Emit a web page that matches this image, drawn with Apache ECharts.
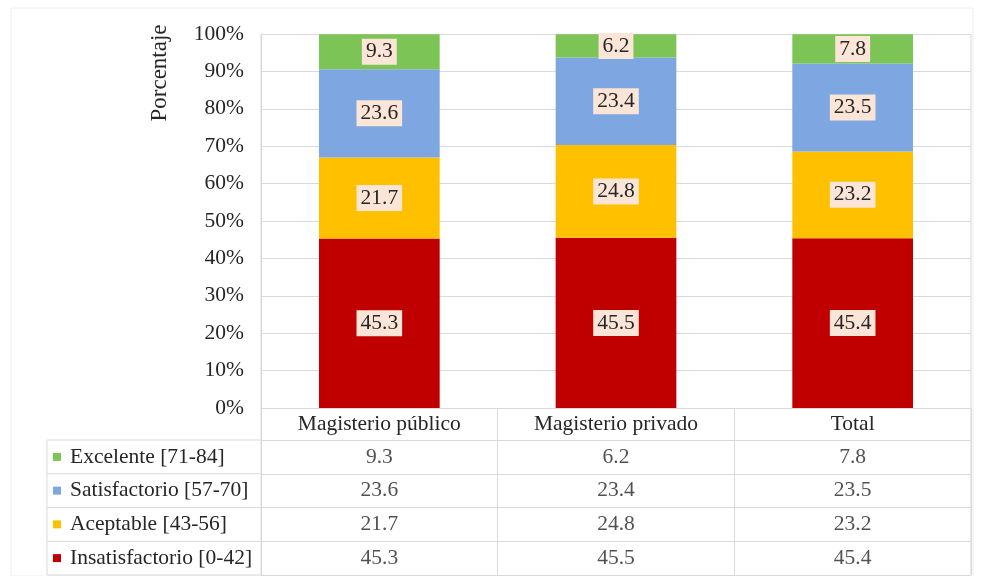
<!DOCTYPE html>
<html><head><meta charset="utf-8">
<script src="https://cdn.jsdelivr.net/npm/echarts@6/dist/echarts.min.js"></script>
<style>html,body{margin:0;padding:0;background:#fff}#c{width:982px;height:576px}</style>
</head><body><div id="c"></div>
<script>
const categories = ['Magisterio público', 'Magisterio privado', 'Total'];
const seriesNames = ['Excelente [71-84]', 'Satisfactorio [57-70]', 'Aceptable [43-56]', 'Insatisfactorio [0-42]'];
const excelente = [9.3, 6.2, 7.8];
const satisfactorio = [23.6, 23.4, 23.5];
const aceptable = [21.7, 24.8, 23.2];
const insatisfactorio = [45.3, 45.5, 45.4];
const yTicks = [0, 10, 20, 30, 40, 50, 60, 70, 80, 90, 100];

const colors = ['#7cc455', '#7ea6e0', '#ffc000', '#c00000'];
const valuesByRow = [excelente, satisfactorio, aceptable, insatisfactorio];
const FONT = '"Liberation Serif", "Times New Roman", serif';
const TXT = '#262626';
const LINE = '#d9d9d9';
const FS = 21.5;

const G = {left: 261, right: 11, top: 34, bottom: 168};
const T = {top: 440, bottom: 1, left: 47};
const H = 576, W = 982;

const tableData = [];
valuesByRow.forEach((arr, r) => arr.forEach((v, c) => tableData.push([c, r, v])));

const stackOrder = [3, 2, 1, 0];
const barSeries = stackOrder.map(i => ({
  name: seriesNames[i], type: 'bar', stack: 'total', xAxisIndex: 0, yAxisIndex: 0,
  barWidth: '51%', data: valuesByRow[i], itemStyle: {color: colors[i]},
  label: {show: true, position: 'inside', color: TXT, fontFamily: FONT, fontSize: FS,
    backgroundColor: '#fbe5d6', padding: [3, 4, 1, 4], formatter: p => p.value.toFixed(1)}
}));

const rich = {};
colors.forEach((c, i) => { rich['m' + i] = {width: 8, height: 8, backgroundColor: c}; });
rich.t = {fontFamily: FONT, fontSize: FS, color: TXT, padding: [0, 0, 0, 9]};

const chart = echarts.init(document.getElementById('c'));
const rowH = (H - T.bottom - T.top) / 4;
const gLines = [];
for (let k = 0; k <= 4; k++) {
  const y = T.top + k * rowH;
  gLines.push({type: 'line', shape: {x1: T.left, y1: y, x2: G.left, y2: y}, style: {stroke: LINE, lineWidth: 1}});
}
gLines.push({type: 'line', shape: {x1: T.left, y1: T.top, x2: T.left, y2: H - T.bottom}, style: {stroke: LINE, lineWidth: 1}});

chart.setOption({
  backgroundColor: '#fff',
  animation: false,
  grid: [
    {left: G.left, right: G.right, top: G.top, bottom: G.bottom, show: false},
    {left: G.left, right: G.right, top: T.top, bottom: T.bottom, show: false}
  ],
  xAxis: [
    {type: 'category', gridIndex: 0, data: categories,
      axisLine: {lineStyle: {color: LINE}}, axisTick: {show: true, inside: false, length: 32, lineStyle: {color: LINE}},
      axisLabel: {color: TXT, fontFamily: FONT, fontSize: FS, margin: 5}},
    {type: 'category', gridIndex: 1, data: categories,
      axisLine: {show: false}, axisTick: {show: false}, axisLabel: {show: false},
      splitLine: {show: true, lineStyle: {color: LINE}}}
  ],
  yAxis: [
    {type: 'value', gridIndex: 0, min: 0, max: 100, interval: 10,
      axisLine: {show: true, lineStyle: {color: LINE}}, axisTick: {show: false},
      axisLabel: {color: TXT, fontFamily: FONT, fontSize: FS, margin: 17,
        formatter: v => yTicks.includes(v) ? v + '%' : ''},
      splitLine: {show: true, lineStyle: {color: LINE}}},
    {type: 'category', gridIndex: 1, data: seriesNames, inverse: true,
      axisLine: {show: false}, axisTick: {show: false},
      axisLabel: {align: 'left', margin: G.left - 53,
        formatter: (v, i) => '{m' + i + '|}{t|' + v + '}', rich: rich},
      splitLine: {show: true, lineStyle: {color: LINE}}}
  ],
  series: barSeries.concat([{
    type: 'scatter', xAxisIndex: 1, yAxisIndex: 1, symbolSize: 0, data: tableData,
    label: {show: true, position: 'inside', color: TXT, fontFamily: FONT, fontSize: FS,
      formatter: p => p.data[2].toFixed(1)}
  }]),
  graphic: [
    {type: 'rect', shape: {x: 11, y: 8, width: W - 20, height: H - 8}, style: {fill: 'none', stroke: '#eeeeee', lineWidth: 1}, silent: true},
    {type: 'group', children: gLines, silent: true},
    {type: 'line', shape: {x1: W - G.right, y1: G.top, x2: W - G.right, y2: H - T.bottom}, style: {stroke: LINE, lineWidth: 1}},
    {type: 'line', shape: {x1: G.left, y1: G.top, x2: G.left, y2: H - T.bottom}, style: {stroke: LINE, lineWidth: 1}},
    {type: 'text', x: 160, y: 73, rotation: Math.PI / 2,
      style: {text: 'Porcentaje', font: '23px ' + FONT, fill: TXT, align: 'center', verticalAlign: 'middle'}}
  ]
});
</script></body></html>
